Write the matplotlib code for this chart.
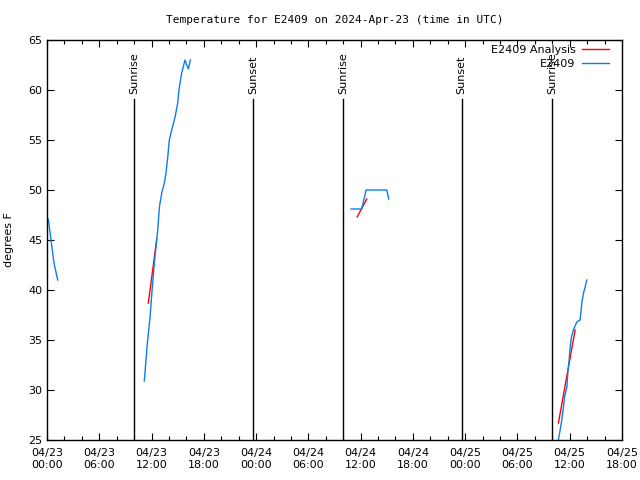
import numpy as np
import matplotlib
matplotlib.use("Agg")
import matplotlib.pyplot as plt
import matplotlib.dates as mdates
from datetime import datetime, timedelta

# hours since 2024-04-23 00:00 UTC
t0 = datetime(2024, 4, 23)

obs1_h = [0.15, 0.46, 0.80, 1.23]
obs1_v = [47.1, 45.0, 42.7, 41.0]

obs2_h = [11.17, 11.52, 11.83, 12.06, 12.32, 12.55, 12.71, 12.90, 13.17, 13.47, 13.66,
          13.86, 14.04, 14.31, 14.70, 15.00, 15.19, 15.46, 15.84, 16.04, 16.23, 16.45]
obs2_v = [30.9, 34.7, 37.3, 40.0, 42.7, 44.7, 46.0, 48.3, 49.7, 50.7, 51.7,
          53.3, 55.0, 56.0, 57.3, 58.7, 60.3, 61.7, 63.0, 62.5, 62.1, 63.0]

obs3_h = [34.90, 36.13, 36.31, 36.50, 36.62, 39.00, 39.23]
obs3_v = [48.1, 48.1, 48.8, 49.5, 50.0, 50.0, 49.1]

obs4_h = [58.70, 58.90, 59.09, 59.28, 59.40, 59.67, 59.78, 59.93, 60.05, 60.20,
          60.42, 60.81, 61.19, 61.39, 61.58, 61.77, 61.96]
obs4_v = [25.0, 26.0, 27.0, 28.3, 29.3, 30.3, 31.7, 33.0, 34.3, 35.3,
          36.0, 36.8, 37.0, 38.7, 39.7, 40.3, 41.0]

fit_h = [[11.63, 12.60], [35.60, 36.70], [58.70, 60.62]]
fit_v = [[38.7, 45.1], [47.3, 49.1], [26.7, 36.0]]

sun_h = [10.0, 23.65, 34.0, 47.6, 58.0]
sun_lbl = ["Sunrise", "Sunset", "Sunrise", "Sunset", "Sunrise"]


def to_dt(hours):
    return [t0 + timedelta(hours=h) for h in hours]


plt.rcParams["font.family"] = "DejaVu Sans"
plt.rcParams["font.size"] = 8

fig = plt.figure(figsize=(6.4, 4.8), dpi=100)
ax = fig.add_axes([47 / 640, 40 / 480, 575 / 640, 400 / 480])

red = "#ff0000"
blue = "#0a7df0"

for i, (h, v) in enumerate(zip(fit_h, fit_v)):
    ax.plot(to_dt(h), v, color=red, lw=1, label="E2409 Analysis" if i == 0 else None)
first = True
for h, v in [(obs1_h, obs1_v), (obs2_h, obs2_v), (obs3_h, obs3_v), (obs4_h, obs4_v)]:
    ax.plot(to_dt(h), v, color=blue, lw=1, label="E2409" if first else None)
    first = False

for h, lbl in zip(sun_h, sun_lbl):
    d = t0 + timedelta(hours=h)
    ax.plot([d, d], [25, 59.1], color="black", lw=1)
    ax.text(d, 59.6, lbl, rotation=90, ha="center", va="bottom", fontsize=8)

ax.set_xlim(t0, t0 + timedelta(hours=66))
ax.set_ylim(25, 65)
ax.set_yticks(np.arange(25, 66, 5))
ax.xaxis.set_major_locator(mdates.HourLocator(byhour=[0, 6, 12, 18]))
ax.xaxis.set_minor_locator(mdates.HourLocator(interval=2))
ax.xaxis.set_major_formatter(mdates.DateFormatter("%m/%d\n%H:%M"))
ax.tick_params(which="both", direction="in", top=True, right=True, width=0.8)
ax.tick_params(which="major", length=5)
ax.tick_params(which="minor", length=3)
ax.tick_params(axis="x", pad=6)
for s in ax.spines.values():
    s.set_linewidth(1)

ax.set_ylabel("degrees F", labelpad=10)
ax.set_title("Temperature for E2409 on 2024-Apr-23 (time in UTC)", fontsize=8,
             family="DejaVu Sans Mono", pad=12)
ax.legend(loc="upper right", bbox_to_anchor=(1 - 9.7 / 575, 1 - 1.4 / 400),
          frameon=False, markerfirst=False, handlelength=2.4,
          borderaxespad=0, labelspacing=0.35, handletextpad=0.6, borderpad=0.3)

fig.savefig("out.png", dpi=100)
